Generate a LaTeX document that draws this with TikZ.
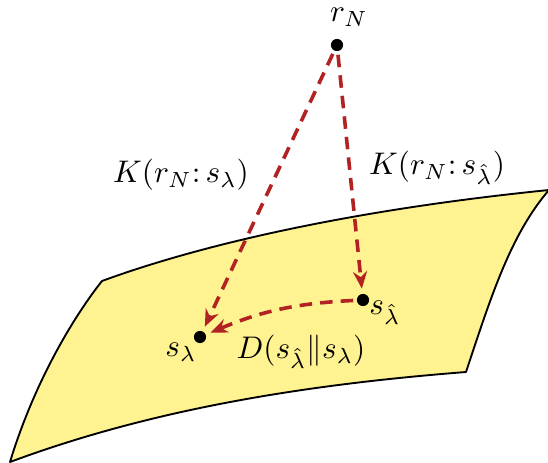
\documentclass[tikz,border=0pt]{standalone}
\usetikzlibrary{arrows.meta}
\definecolor{surf}{RGB}{255,243,145}
\definecolor{arr}{RGB}{178,34,34}
\begin{document}
\begin{tikzpicture}[x=0.32pt,y=-0.32pt,
  pt/.style={circle,fill=black,inner sep=0pt,minimum size=3.9pt},
  lbl/.style={inner sep=0pt},
  rarrow/.style={draw=arr,line width=1.15pt,dash pattern=on 4pt off 2.6pt,-{Stealth[length=5.5pt,width=4.5pt]},shorten <=1pt,shorten >=1.5pt}]
\useasboundingbox (0,0) rectangle (548,463);
\draw[fill=surf,line width=0.6pt,line join=round]
  (102,281) .. controls (200,245) and (350,210) .. (549,190)
  .. controls (510,235) and (490,300) .. (466,372)
  .. controls (300,385) and (150,410) .. (10,462)
  .. controls (35,380) and (75,315) .. (102,281) -- cycle;
\node[pt] (rN) at (337,45) {};
\node[pt] (sl) at (200,337) {};
\node[pt] (sh) at (363,300) {};
\node[lbl] (lrN) at (349,17) {$r_N$};
\node[lbl] (lsl) at (181,352) {$s_\lambda$};
\node[lbl] (lsh) at (385,313) {$s_{\hat\lambda}$};
\node[lbl] (k1) at (181,175) {$K(r_N\colon s_\lambda)$};
\node[lbl] (k2) at (437,168) {$K(r_N\colon s_{\hat\lambda})$};
\node[lbl] (d) at (301,352) {$D(s_{\hat\lambda}\|s_\lambda)$};
\draw[rarrow] (rN) -- (sl);
\draw[rarrow] (rN) -- (sh);
\draw[rarrow] (sh) to[bend right=10] (sl);
\end{tikzpicture}
\end{document}
